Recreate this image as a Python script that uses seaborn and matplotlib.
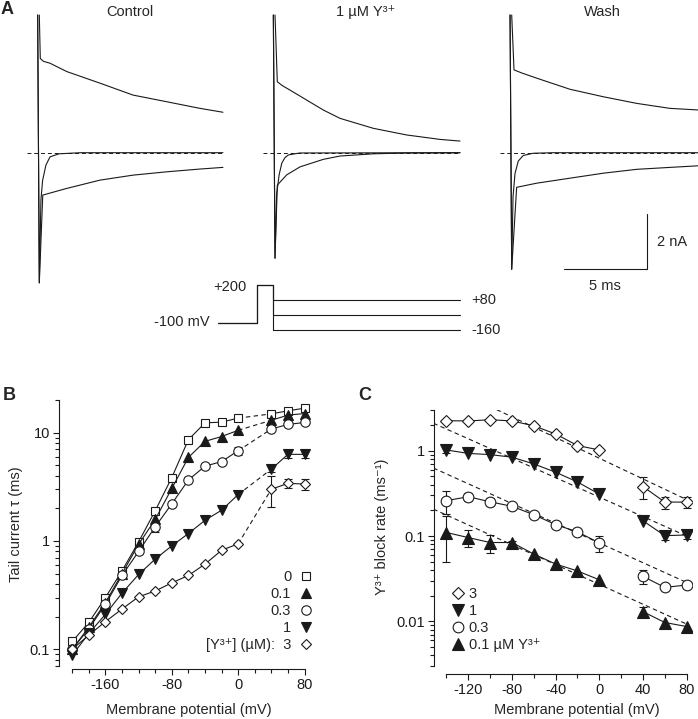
import matplotlib
matplotlib.use('Agg')
import numpy as np
import matplotlib.pyplot as plt
from matplotlib.lines import Line2D
from matplotlib.ticker import MultipleLocator, LogLocator, FuncFormatter, NullFormatter
import seaborn as sns

W, H = 698, 719

# ---------------- Panel A: tail currents (ms, nA) at +80, -40, -160 mV
ctrl_t_p80 = [0.0, 0.06, 0.25, 0.65, 1.66, 3.68, 5.68, 7.72, 9.74, 11.13]
ctrl_i_p80 = [4.97, 3.40, 3.30, 3.23, 2.93, 2.51, 2.08, 1.84, 1.60, 1.46]
ctrl_t_m40 = [-0.1, 0.0, 0.1, 0.2, 0.4, 0.65, 1.2, 2.5, 11.13]
ctrl_i_m40 = [4.97, -4.70, -1.7, -1.0, -0.45, -0.15, -0.04, 0.0, 0.0]
ctrl_t_m160 = [-0.1, 0.0, 0.21, 1.66, 3.68, 5.68, 7.72, 9.74, 11.13]
ctrl_i_m160 = [4.97, -4.70, -1.53, -1.29, -0.99, -0.81, -0.69, -0.59, -0.53]

y1_t_p80 = [0.0, 0.14, 0.45, 0.91, 1.92, 2.93, 3.94, 5.96, 7.98, 10.0, 11.21]
y1_i_p80 = [4.97, 2.56, 2.42, 2.26, 1.90, 1.54, 1.24, 0.88, 0.64, 0.48, 0.42]
y1_t_m40 = [-0.1, 0.0, 0.1, 0.25, 0.41, 0.6, 0.81, 1.5, 11.21]
y1_i_m40 = [4.97, -3.81, -1.5, -0.8, -0.38, -0.18, -0.08, -0.01, 0.0]
y1_t_m160 = [-0.1, 0.0, 0.14, 0.71, 1.52, 2.93, 3.94, 5.96, 8.0, 11.21]
y1_i_m160 = [4.97, -3.81, -1.17, -0.80, -0.51, -0.24, -0.12, -0.04, -0.01, 0.0]

wash_t_p80 = [0.0, 0.14, 0.6, 1.52, 3.53, 5.55, 7.58, 9.6, 11.4]
wash_i_p80 = [4.97, 2.99, 2.88, 2.69, 2.29, 2.02, 1.78, 1.60, 1.54]
wash_t_m40 = [-0.1, 0.0, 0.08, 0.2, 0.4, 0.7, 1.3, 2.5, 11.4]
wash_i_m40 = [4.97, -4.21, -1.6, -0.75, -0.3, -0.1, -0.02, 0.0, 0.0]
wash_t_m160 = [-0.1, 0.0, 0.3, 1.52, 3.53, 5.55, 7.58, 9.6, 11.4]
wash_i_m160 = [4.97, -4.21, -1.25, -1.10, -0.92, -0.74, -0.60, -0.53, -0.47]

a_titles = ['Control', '1 µM Y³⁺', 'Wash']

# voltage protocol (ms, mV)
prot_t = [-3.44, -1.11, -1.11, -0.10, -0.10, 11.21]
prot_hold = -100
prot_pre = 200
prot_tests = [80, -40, -160]

# ---------------- Panel B: tail current tau (ms)
vm_b = [-200, -180, -160, -140, -120, -100, -80, -60, -40, -20, 0, 40, 60, 80]
tau_0 = [0.118, 0.177, 0.30, 0.53, 0.98, 1.9, 3.85, 8.6, 12.3, 12.5, 13.6, 14.9, 15.9, 16.8]
tau_01 = [0.10, 0.16, 0.27, 0.50, 0.93, 1.58, 3.05, 5.9, 8.3, 9.2, 10.5, 13.0, 14.5, 15.0]
tau_03 = [0.10, 0.155, 0.26, 0.48, 0.80, 1.35, 2.2, 3.65, 4.9, 5.4, 6.8, 10.8, 11.9, 12.4]
tau_1 = [0.088, 0.14, 0.21, 0.33, 0.49, 0.68, 0.9, 1.17, 1.55, 1.92, 2.68, 4.6, 6.3, 6.3]
tau_3 = [0.10, 0.135, 0.18, 0.235, 0.305, 0.345, 0.41, 0.48, 0.61, 0.82, 0.94, 3.0, 3.4, 3.35]
err_0 = [0] * 14
err_01 = [0] * 14
err_03 = [0, 0, 0, 0, 0, 0.15, 0, 0, 0, 0, 0.6, 0, 0, 0]
err_1 = [0, 0, 0, 0, 0, 0, 0, 0, 0, 0, 0, 0.3, 0.5, 0.5]
err_3 = [0, 0, 0, 0, 0, 0, 0, 0, 0, 0, 0, 0.95, 0.35, 0.4]
b_labels = ['0', '0.1', '0.3', '1', '[Y³⁺] (µM):  3']

# ---------------- Panel C: Y3+ block rate (1/ms)
vm_c = [-140, -120, -100, -80, -60, -40, -20, 0, 40, 60, 80]
k_3 = [2.25, 2.23, 2.31, 2.23, 1.96, 1.57, 1.15, 1.02, 0.38, 0.25, 0.25]
k_1 = [1.02, 0.93, 0.90, 0.84, 0.70, 0.56, 0.43, 0.31, 0.151, 0.101, 0.103]
k_03 = [0.26, 0.289, 0.252, 0.223, 0.178, 0.136, 0.112, 0.083, 0.0337, 0.025, 0.0267]
k_01 = [0.110, 0.096, 0.084, 0.084, 0.0615, 0.047, 0.039, 0.0307, 0.013, 0.0097, 0.0087]
kerr_3 = [0, 0, 0, 0, 0, 0, 0, 0, 0.11, 0.04, 0.035]
kerr_1 = [0.07, 0, 0, 0, 0, 0, 0, 0, 0, 0.012, 0.01]
kerr_03 = [0.08, 0.03, 0.03, 0, 0, 0, 0, 0.018, 0.006, 0, 0]
kerr_01 = [0.06, 0.022, 0.02, 0.004, 0, 0, 0, 0, 0.0017, 0, 0]
# dashed fits (end points)
fit_x_3, fit_k_3 = [-94, 82], [3.03, 0.26]
fit_x_1, fit_k_1 = [-152, 80], [2.1, 0.10]
fit_x_03, fit_k_03 = [-152, 80], [0.627, 0.0286]
fit_x_01, fit_k_01 = [-152, 80], [0.207, 0.0093]
c_labels = ['3', '1', '0.3', '0.1 µM Y³⁺']

# ---------------- style
sns.set_theme(style='ticks')
plt.rcParams['font.family'] = ['Liberation Sans', 'DejaVu Sans']
plt.rcParams['axes.unicode_minus'] = False
FS = 10.5
LW = 0.8


def rect(left, top, width, height):
    return [left / W, 1 - (top + height) / H, width / W, height / H]


def fxy(x, y):
    return (x / W, 1 - y / H)


fig = plt.figure(figsize=(W / 100, H / 100), dpi=100)

# ---------------- Panel A
PX_MS, PX_NA, BASE_Y = 16.5, 27.7, 152.7
T_LO, T_HI, I_LO, I_HI = -0.8, 11.6, -4.9, 5.0
spike_px = [39.3, 275.0, 511.7]
a_traces = [
    [(ctrl_t_p80, ctrl_i_p80), (ctrl_t_m40, ctrl_i_m40), (ctrl_t_m160, ctrl_i_m160)],
    [(y1_t_p80, y1_i_p80), (y1_t_m40, y1_i_m40), (y1_t_m160, y1_i_m160)],
    [(wash_t_p80, wash_i_p80), (wash_t_m40, wash_i_m40), (wash_t_m160, wash_i_m160)],
]
a_axes = []
for x0, title, traces in zip(spike_px, a_titles, a_traces):
    ax = fig.add_axes(rect(x0 + T_LO * PX_MS, BASE_Y - I_HI * PX_NA,
                           (T_HI - T_LO) * PX_MS, (I_HI - I_LO) * PX_NA))
    ax.set_xlim(T_LO, T_HI)
    ax.set_ylim(I_LO, I_HI)
    ax.axis('off')
    t_end = max(t[-1] for t, _ in traces)
    ax.hlines(0, -0.72, t_end, colors='k', linestyles=(0, (4, 3)), lw=0.7)
    for t, i in traces:
        sns.lineplot(x=t, y=i, ax=ax, color='k', lw=LW, estimator=None, sort=False)
    ax.text(5.5, (BASE_Y - 12) / PX_NA, title, ha='center', va='center', fontsize=FS)
    a_axes.append(ax)

# scale bar (5 ms, 2 nA) in the wash panel
axw = a_axes[2]
sb_t, sb_i = 8.18, -4.21
axw.plot([sb_t - 5, sb_t, sb_t], [sb_i, sb_i, sb_i + 2], color='k', lw=LW)
axw.text(sb_t + 0.6, sb_i + 1.0, '2 nA', ha='left', va='center', fontsize=FS)
axw.text(sb_t - 2.5, sb_i - 0.6, '5 ms', ha='center', va='center', fontsize=FS)

# voltage protocol, aligned with the 1 uM panel
V_PX = 0.125
axv = fig.add_axes(rect(spike_px[1] - 4.0 * PX_MS, 285 - 20 * V_PX, 16 * PX_MS, 400 * V_PX))
axv.set_xlim(-4.0, 12.0)
axv.set_ylim(-180, 220)
axv.axis('off')
for v in prot_tests:
    axv.plot(prot_t, [prot_hold, prot_hold, prot_pre, prot_pre, v, v], color='k', lw=LW)
axv.text(prot_t[1] - 0.6, prot_pre - 14, '+200', ha='right', va='center', fontsize=FS)
axv.text(prot_t[0] - 0.5, prot_hold, '-100 mV', ha='right', va='center', fontsize=FS)
axv.text(prot_t[-1] + 0.7, prot_tests[0], '+80', ha='left', va='center', fontsize=FS)
axv.text(prot_t[-1] + 0.7, prot_tests[-1] + 2, '-160', ha='left', va='center', fontsize=FS)

fig.text(*fxy(1, 10), 'A', weight='bold', fontsize=13, ha='left', va='center')


def style_axes(ax, xbounds, xmajor, out_px):
    sns.despine(ax=ax)
    ax.spines['bottom'].set_position(('outward', out_px * 0.72))
    ax.spines['bottom'].set_bounds(*xbounds)
    for s in ('left', 'bottom'):
        ax.spines[s].set_linewidth(LW)
        ax.spines[s].set_color('k')
    ax.xaxis.set_major_locator(MultipleLocator(xmajor))
    ax.xaxis.set_minor_locator(MultipleLocator(20))
    ax.yaxis.set_major_locator(LogLocator(base=10))
    ax.yaxis.set_minor_locator(LogLocator(base=10, subs=np.arange(2, 10)))
    ax.yaxis.set_major_formatter(FuncFormatter(lambda v, p: f'{v:g}'))
    ax.yaxis.set_minor_formatter(NullFormatter())
    ax.tick_params(which='major', length=4.5, width=LW, direction='out', color='k',
                   labelsize=FS, pad=2, labelcolor='k')
    ax.tick_params(which='minor', length=2.6, width=LW, direction='out', color='k')
    ax.grid(False)
    ax.set_xlabel('')
    ax.set_ylabel('')


def draw_series(ax, x, y, err, marker, filled, ms, connect):
    x, y, err = np.asarray(x, float), np.asarray(y, float), np.asarray(err, float)
    e = err > 0
    if e.any():
        ax.errorbar(x[e], y[e], yerr=err[e], fmt='none', ecolor='k', elinewidth=LW,
                    capsize=3.2, capthick=LW, zorder=2)
    left, right = x <= 0, x >= 40
    if connect:
        i0, i1 = np.where(left)[0][-1], np.where(right)[0][0]
        ax.plot(x[[i0, i1]], y[[i0, i1]], color='k', lw=LW, ls=(0, (4, 3)), zorder=2)
    for m in (left, right):
        sns.lineplot(x=x[m], y=y[m], ax=ax, color='k', lw=LW, marker=marker, ms=ms,
                     mfc='k' if filled else 'w', mec='k', mew=LW,
                     estimator=None, sort=False, zorder=3)


def marker_handle(marker, filled, ms):
    return Line2D([], [], ls='none', marker=marker, ms=ms, mfc='k' if filled else 'w',
                  mec='k', mew=LW)


# ---------------- Panel B
axB = fig.add_axes(rect(59, 400, 253, 266))
axB.set_yscale('log')
axB.set_xlim(-216, 89)
axB.set_ylim(0.07, 20)
b_series = [(tau_0, err_0, 's', False, 6.3), (tau_01, err_01, '^', True, 6.8),
            (tau_03, err_03, 'o', False, 6.8), (tau_1, err_1, 'v', True, 6.8),
            (tau_3, err_3, 'D', False, 5.1)]
for y, err, mk, filled, ms in b_series:
    draw_series(axB, vm_b, y, err, mk, filled, ms, True)
style_axes(axB, (-200, 80), 80, 3)
hb = [marker_handle(mk, f, ms) for _, _, mk, f, ms in b_series]
axB.legend(hb, b_labels, loc='lower right', bbox_to_anchor=fxy(313, 652),
           bbox_transform=fig.transFigure, frameon=False, markerfirst=False,
           handlelength=1.0, handletextpad=0.5, labelspacing=0.2, borderpad=0,
           borderaxespad=0, fontsize=FS)
fig.text(*fxy(16, 524), 'Tail current τ (ms)', rotation=90, ha='center', va='center', fontsize=FS)
fig.text(*fxy(189, 710), 'Membrane potential (mV)', ha='center', va='center', fontsize=FS)
fig.text(*fxy(3, 395), 'B', weight='bold', fontsize=13, ha='left', va='center')

# ---------------- Panel C
axC = fig.add_axes(rect(434, 410, 258, 256))
axC.set_yscale('log')
axC.set_xlim(-151.4, 84.9)
axC.set_ylim(0.003, 3)
for fx, fk in [(fit_x_3, fit_k_3), (fit_x_1, fit_k_1), (fit_x_03, fit_k_03), (fit_x_01, fit_k_01)]:
    axC.plot(fx, fk, color='k', lw=LW, ls=(0, (4, 3)), zorder=1)
c_series = [(k_3, kerr_3, 'D', False, 6.1), (k_1, kerr_1, 'v', True, 8.0),
            (k_03, kerr_03, 'o', False, 7.7), (k_01, kerr_01, '^', True, 8.0)]
for y, err, mk, filled, ms in c_series:
    draw_series(axC, vm_c, y, err, mk, filled, ms, False)
style_axes(axC, (-140, 80), 40, 8)
hc = [marker_handle(mk, f, ms) for _, _, mk, f, ms in c_series]
axC.legend(hc, c_labels, loc='lower left', bbox_to_anchor=fxy(452, 652),
           bbox_transform=fig.transFigure, frameon=False,
           handlelength=0.8, handletextpad=0.35, labelspacing=0.2, borderpad=0,
           borderaxespad=0, fontsize=FS)
fig.text(*fxy(382, 527), 'Y³⁺ block rate (ms⁻¹)', rotation=90, ha='center',
         va='center', fontsize=FS)
fig.text(*fxy(577, 710), 'Membrane potential (mV)', ha='center', va='center', fontsize=FS)
fig.text(*fxy(358, 395), 'C', weight='bold', fontsize=13, ha='left', va='center')

fig.savefig('out.png', dpi=100)
